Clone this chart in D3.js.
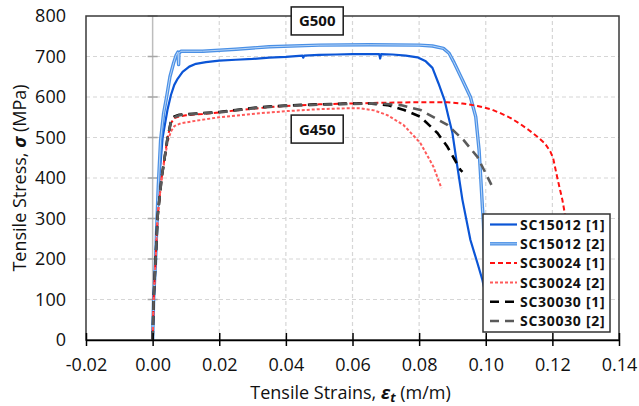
<!DOCTYPE html>
<html>
<head>
<meta charset="utf-8">
<script src="https://cdn.jsdelivr.net/npm/d3@7"></script>
<style>
  html, body { margin: 0; padding: 0; background: #fff; }
  svg { display: block; font-family: "Open Sans", "Noto Sans", sans-serif; }
</style>
</head>
<body>
<svg id="chart" width="639" height="406"></svg>
<script>
// Tensile stress-strain curves, [strain (m/m), stress (MPa)]
const sc15012_1 = [[0,0],[0.0003,100],[0.0009,200],[0.0013,280],[0.002,400],[0.003,500],[0.0045,570],[0.0055,605],[0.0065,630],[0.0075,645],[0.009,662],[0.011,675],[0.013,682],[0.016,686],[0.02,690],[0.025,692],[0.03,694],[0.035,697],[0.04,699],[0.045,702],[0.0452,697],[0.0455,702],[0.05,704],[0.055,705],[0.06,706],[0.065,706],[0.068,706],[0.0683,695],[0.0686,706],[0.072,705],[0.076,702],[0.0795,698],[0.082,688],[0.084,672],[0.0858,634],[0.0876,593],[0.0888,551],[0.09,511],[0.0915,427],[0.093,346],[0.0954,247],[0.0975,190],[0.099,148],[0.1,110]];
const sc15012_2 = [[0,0],[0.0003,100],[0.0009,200],[0.0012,270],[0.0017,380],[0.0024,494],[0.0033,560],[0.0042,600],[0.0052,650],[0.0063,684],[0.007,702],[0.0076,711],[0.0078,680],[0.0079,708],[0.0085,713],[0.01,713],[0.015,713],[0.025,718],[0.035,724],[0.05,728],[0.065,729],[0.08,728],[0.084,726],[0.0873,720],[0.089,708],[0.0903,688],[0.093,642],[0.0954,600],[0.097,551],[0.098,469],[0.0985,400],[0.099,328],[0.0993,289],[0.0997,200],[0.1,150]];
const sc30024_1 = [[0,0],[0.0003,100],[0.0009,200],[0.0015,305],[0.0027,400],[0.0045,500],[0.0055,535],[0.0065,548],[0.008,552],[0.01,555],[0.015,558],[0.02,562],[0.025,567],[0.03,571],[0.035,575],[0.04,578],[0.05,582],[0.06,584],[0.07,586],[0.08,587],[0.0885,587],[0.093,584],[0.0975,578],[0.1015,570],[0.1044,560],[0.1075,548],[0.1104,533],[0.113,518],[0.1155,502],[0.1178,485],[0.1194,465],[0.1202,450],[0.1215,400],[0.123,346],[0.124,300],[0.125,250]];
const sc30024_2 = [[0,0],[0.0003,100],[0.0009,200],[0.0015,305],[0.0027,400],[0.0045,490],[0.0055,515],[0.0065,528],[0.0084,535],[0.012,540],[0.02,550],[0.0324,560],[0.04,565],[0.05,570],[0.058,572],[0.0624,572],[0.0665,567],[0.0705,555],[0.0753,531],[0.0804,486],[0.0843,428],[0.0867,375]];
const sc30030_1 = [[0,0],[0.0003,100],[0.0009,200],[0.0015,305],[0.0027,400],[0.0045,500],[0.0055,540],[0.0065,552],[0.008,556],[0.0144,560],[0.02,563],[0.025,568],[0.0324,575],[0.04,579],[0.05,582],[0.06,584],[0.065,584],[0.0705,580],[0.0755,568],[0.0804,551],[0.0855,511],[0.0885,477],[0.0924,420],[0.093,415]];
const sc30030_2 = [[0,0],[0.0003,100],[0.0009,200],[0.0015,305],[0.0027,400],[0.0045,500],[0.0055,538],[0.0065,550],[0.008,555],[0.0144,559],[0.02,562],[0.025,567],[0.0324,574],[0.04,578],[0.05,581],[0.06,583],[0.068,584],[0.0744,580],[0.0804,568],[0.0885,531],[0.0933,494],[0.0975,452],[0.1005,403],[0.1017,383]];

const seriesNames = ["SC15012 [1]","SC15012 [2]","SC30024 [1]","SC30024 [2]","SC30030 [1]","SC30030 [2]"];
const xTicks = [-0.02,0,0.02,0.04,0.06,0.08,0.10,0.12,0.14];
const yTicks = [0,100,200,300,400,500,600,700,800];
const gradeLabels = ["G500","G450"];

const series = [
  {name: seriesNames[0], data: sc15012_1, color: "#0b55d6", width: 2.2, dash: null},
  {name: seriesNames[1], data: sc15012_2, color: "#4a90e6", width: 3.4, dash: null, core: "#b9d5f6"},
  {name: seriesNames[2], data: sc30024_1, color: "#ff1010", width: 2, dash: "5,3"},
  {name: seriesNames[3], data: sc30024_2, color: "#ff5a5a", width: 2, dash: "3,2"},
  {name: seriesNames[4], data: sc30030_1, color: "#000000", width: 2.6, dash: "9,6"},
  {name: seriesNames[5], data: sc30030_2, color: "#5a5a5a", width: 2.6, dash: "9,6"}
];

const svg = d3.select("#chart");
const m = {left: 86, right: 20, top: 16, bottom: 66};
const W = 639, H = 406;
const x = d3.scaleLinear().domain([-0.02, 0.14]).range([m.left, W - m.right]);
const y = d3.scaleLinear().domain([0, 800]).range([H - m.bottom, m.top]);

// grid
const grid = svg.append("g");
grid.selectAll("line.h").data(yTicks.filter(d => d > 0 && d < 800)).join("line")
  .attr("x1", x(-0.02)).attr("x2", x(0.14)).attr("y1", d => y(d)).attr("y2", d => y(d))
  .attr("stroke", "#d6d6d6").attr("stroke-width", 1.2).attr("stroke-dasharray", "4,3");
grid.selectAll("line.v").data(xTicks.filter(d => d > -0.02 && d < 0.14 && Math.abs(d) > 1e-9)).join("line")
  .attr("x1", d => x(d)).attr("x2", d => x(d)).attr("y1", y(0)).attr("y2", y(800))
  .attr("stroke", "#d6d6d6").attr("stroke-width", 1.2).attr("stroke-dasharray", "4,3");

// vertical axis crossing at zero strain
svg.append("line").attr("x1", x(0)).attr("x2", x(0)).attr("y1", y(0)).attr("y2", y(800))
  .attr("stroke", "#bdbdbd").attr("stroke-width", 1.5);
svg.append("g").selectAll("line").data(yTicks.filter(d => d > 0)).join("line")
  .attr("x1", x(0) - 5).attr("x2", x(0) + 5).attr("y1", d => y(d)).attr("y2", d => y(d))
  .attr("stroke", "#a6a6a6").attr("stroke-width", 1.5);

// curves
svg.append("clipPath").attr("id", "plotclip").append("rect")
  .attr("x", x(-0.02)).attr("y", y(800)).attr("width", x(0.14) - x(-0.02)).attr("height", y(0) - y(800));
const line = d3.line().x(d => x(d[0])).y(d => y(d[1]));
const curves = svg.append("g").attr("clip-path", "url(#plotclip)");
series.forEach(s => {
  curves.append("path").attr("d", line(s.data)).attr("fill", "none")
    .attr("stroke", s.color).attr("stroke-width", s.width)
    .attr("stroke-dasharray", s.dash).attr("stroke-linejoin", "round");
  if (s.core) {
    curves.append("path").attr("d", line(s.data)).attr("fill", "none")
      .attr("stroke", s.core).attr("stroke-width", 1).attr("stroke-linejoin", "round");
  }
});

// plot frame
svg.append("rect").attr("x", x(-0.02)).attr("y", y(800))
  .attr("width", x(0.14) - x(-0.02)).attr("height", y(0) - y(800))
  .attr("fill", "none").attr("stroke", "#3a3a3a").attr("stroke-width", 1.5);

// x axis
const fmt = d => d3.format(".2f")(d).replace("\u2212", "-");
const xAxis = svg.append("g").attr("transform", `translate(0,${y(0)})`)
  .call(d3.axisBottom(x).tickValues(xTicks).tickFormat(fmt).tickSizeInner(6).tickSizeOuter(0).tickPadding(12));
xAxis.select(".domain").attr("stroke", "#000").attr("stroke-width", 1.5);
xAxis.selectAll(".tick line").attr("y1", -7).attr("y2", 6).attr("stroke", "#000").attr("stroke-width", 1.5);
xAxis.selectAll(".tick text").attr("font-size", 18).attr("fill", "#111").attr("font-family", "Open Sans");

// y axis labels
const yAxis = svg.append("g").attr("transform", `translate(${x(-0.02)},0)`)
  .call(d3.axisLeft(y).tickValues(yTicks).tickSize(0).tickPadding(20));
yAxis.select(".domain").remove();
yAxis.selectAll(".tick text").attr("font-size", 18).attr("fill", "#111").attr("font-family", "Open Sans");

// axis titles
const xt = svg.append("text").attr("x", (x(-0.02) + x(0.14)) / 2 - 2).attr("y", 399)
  .attr("text-anchor", "middle").attr("font-size", 18).attr("fill", "#111");
xt.append("tspan").text("Tensile Strains, ");
xt.append("tspan").text("ε").attr("font-weight", "bold").attr("font-style", "italic");
xt.append("tspan").text("t").attr("font-weight", "bold").attr("font-style", "italic").attr("font-size", 13).attr("dy", 3);
xt.append("tspan").text(" (m/m)").attr("dy", -3);

const yt = svg.append("text").attr("transform", `translate(26,${(y(0) + y(800)) / 2}) rotate(-90)`)
  .attr("text-anchor", "middle").attr("font-size", 18).attr("fill", "#111");
yt.append("tspan").text("Tensile Stress, ");
yt.append("tspan").text("σ").attr("font-weight", "bold").attr("font-style", "italic");
yt.append("tspan").text(" (MPa)");

// grade labels
const boxes = [{t: gradeLabels[0], sx: 0.041, sy: 810}, {t: gradeLabels[1], sx: 0.041, sy: 543}];
boxes.forEach(b => {
  const bx = x(b.sx) + 2, by = y(b.sy) - 5;
  svg.append("rect").attr("x", bx).attr("y", by).attr("width", 52).attr("height", 28)
    .attr("fill", "#fff").attr("stroke", "#1a1a1a").attr("stroke-width", 1.5);
  svg.append("text").attr("x", bx + 26).attr("y", by + 19.5).attr("text-anchor", "middle")
    .attr("font-size", 15).attr("font-weight", "bold").attr("fill", "#111").text(b.t);
});

// legend
const lg = svg.append("g").attr("transform", "translate(483,214)");
lg.append("rect").attr("width", 127).attr("height", 118)
  .attr("fill", "#fff").attr("stroke", "#333").attr("stroke-width", 1.5);
series.forEach((s, i) => {
  const cy = 10.5 + i * 19.3;
  lg.append("line").attr("x1", 7).attr("x2", 34).attr("y1", cy).attr("y2", cy)
    .attr("stroke", s.color).attr("stroke-width", s.width).attr("stroke-dasharray", s.dash);
  if (s.core) lg.append("line").attr("x1", 7).attr("x2", 34).attr("y1", cy).attr("y2", cy)
    .attr("stroke", s.core).attr("stroke-width", 0.8);
  lg.append("text").attr("x", 37).attr("y", cy + 5.2).attr("font-size", 14).attr("font-weight", "bold")
    .attr("letter-spacing", 0.7).attr("fill", "#111").text(s.name);
});
</script>
</body>
</html>
